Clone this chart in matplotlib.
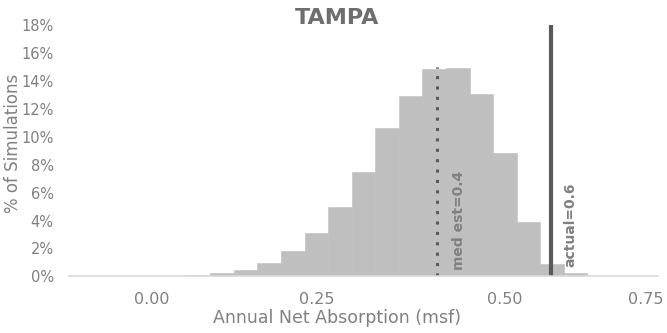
import numpy as np
import matplotlib
matplotlib.use("Agg")
import matplotlib.pyplot as plt

# histogram of simulated annual net absorption, one value per bin (percent of simulations)
bin_index = np.arange(25)
pct_sims = [0, 0, 0, 0, 0, 0.07, 0.22, 0.46, 0.98, 1.8, 3.1, 5.0, 7.5, 10.6,
            12.95, 14.85, 14.95, 13.05, 8.85, 3.9, 0.87, 0.21, 0, 0, 0]

tick_bins = [3, 10, 18, 24]
tick_labels = ["0.00", "0.25", "0.50", "0.75"]

med_est_bin = 15.11
med_est_label = "med est=0.4"
actual_bin = 19.95
actual_label = "actual=0.6"

plt.rcParams['font.family'] = ['DejaVu Sans']
txt_color = '#808080'

fig = plt.figure(figsize=(6.67, 3.33), dpi=100)
ax = fig.add_axes([69 / 667, 1 - 276.3 / 333, 589 / 667, 251 / 333])

ax.bar(bin_index, pct_sims, width=1.0, color='#bfbfbf', edgecolor='#bfbfbf', linewidth=0.4)

ax.vlines(med_est_bin, 0, 15, colors='#595959', linewidth=2.2, linestyles=(0, (1, 2.4)))
ax.vlines(actual_bin, 0, 18, colors='#595959', linewidth=3, clip_on=False)

ax.text(med_est_bin + 0.63, 0.45, med_est_label, rotation=90, ha='left', va='bottom',
        fontsize=10, fontweight='bold', color=txt_color)
ax.text(actual_bin + 0.52, 0.69, actual_label, rotation=90, ha='left', va='bottom',
        fontsize=10, fontweight='bold', color=txt_color)

ax.set_xlim(-0.5, 24.5)
ax.set_ylim(0, 18)
ax.set_xticks(tick_bins)
ax.set_xticklabels(tick_labels)
ax.set_yticks(range(0, 19, 2))
ax.set_yticklabels([f"{v}%" for v in range(0, 19, 2)])
ax.tick_params(axis='both', length=0, colors=txt_color)
ax.tick_params(axis='x', pad=11, labelsize=11.5)
ax.tick_params(axis='y', pad=11, labelsize=10.5)

for side in ['top', 'right', 'left']:
    ax.spines[side].set_visible(False)
ax.spines['bottom'].set_color('#d9d9d9')
ax.spines['bottom'].set_linewidth(1.2)

ax.set_xlabel('Annual Net Absorption (msf)', fontsize=12.5, color=txt_color)
ax.xaxis.set_label_coords(0.455, -0.132)
ax.set_ylabel('% of Simulations', fontsize=12, color=txt_color)
ax.yaxis.set_label_coords(-0.08, 0.53)

fig.text(337 / 667, 1 - 17.5 / 333, 'TAMPA', ha='center', va='center', fontsize=16,
         fontweight='bold', color='#6e6e6e')

fig.savefig('out.png', dpi=100)
